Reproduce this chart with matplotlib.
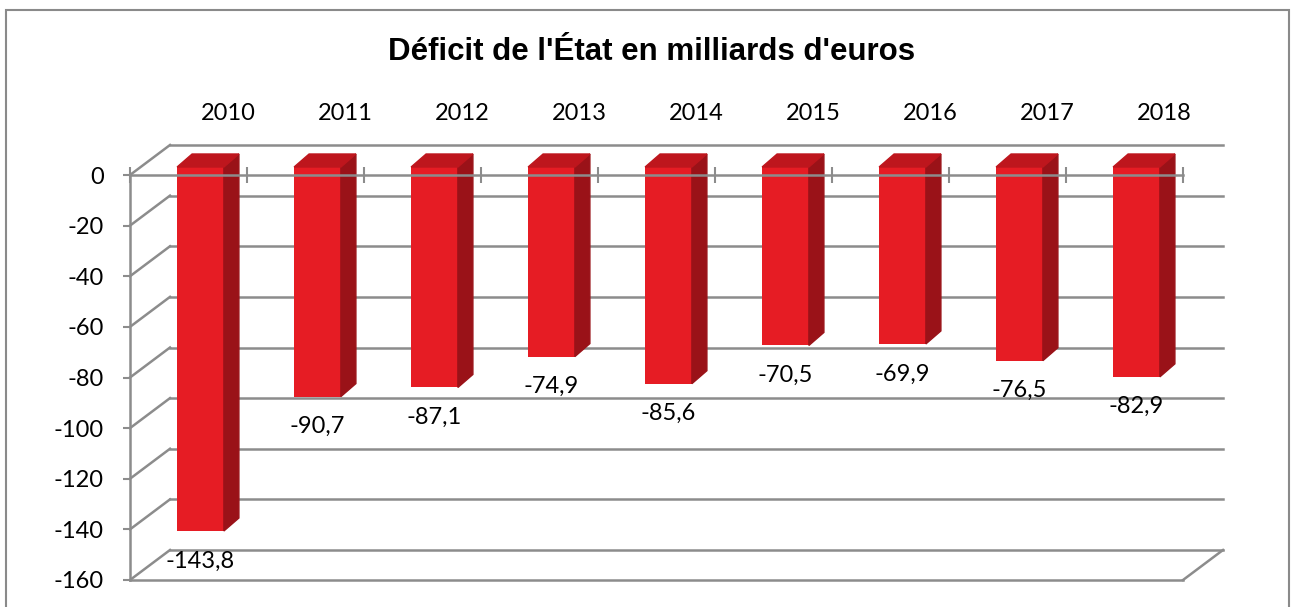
import numpy as np
import matplotlib.pyplot as plt
from matplotlib.patches import Polygon, Rectangle
from matplotlib.transforms import offset_copy

# donnees : deficit de l'Etat (milliards d'euros)
annees = ['2010', '2011', '2012', '2013', '2014', '2015', '2016', '2017', '2018']
deficit = [-143.8, -90.7, -87.1, -74.9, -85.6, -70.5, -69.9, -76.5, -82.9]
graduations = [0, -20, -40, -60, -80, -100, -120, -140, -160]

plt.rcParams['font.family'] = ['Lato', 'DejaVu Sans']

gris = '#8c8c8c'
rouge_face = '#e61c24'
rouge_cote = '#9a1218'
rouge_haut = '#be161d'

fig = plt.figure(figsize=(12.96, 6.07), dpi=100)
ax = fig.add_axes([130 / 1296, 27 / 607, 1053 / 1296, 405 / 607])
ax.set_xlim(0, len(annees))
ax.set_ylim(-160, 0)

# conversion pixels -> unites de donnees (pour l'effet 3D)
pos = ax.get_position()
px_x = len(annees) / (pos.width * fig.get_figwidth() * fig.dpi)
px_y = 160 / (pos.height * fig.get_figheight() * fig.dpi)

prof_x, prof_y = 40 * px_x, 30 * px_y      # profondeur du plan
off_x, off_y = 12 * px_x, 8 * px_y         # decalage de la face avant des barres
bar_dx, bar_dy = 15 * px_x, 13 * px_y      # epaisseur des barres
bw = 0.40

# mur du fond + paroi gauche
for g in graduations:
    ax.plot([prof_x, len(annees) + prof_x], [g + prof_y, g + prof_y],
            color=gris, lw=1.8, zorder=0.5, clip_on=False)
    ax.plot([0, prof_x], [g, g + prof_y], color=gris, lw=1.8, zorder=0.5, clip_on=False)
# sol, cote droit
ax.plot([len(annees), len(annees) + prof_x], [-160, -160 + prof_y],
        color=gris, lw=1.8, zorder=0.5, clip_on=False)

# barres
x = np.arange(len(annees)) + 0.5
ax.bar(x, deficit, width=bw, color=rouge_face, zorder=1, clip_on=False,
       transform=offset_copy(ax.transData, fig, x=12, y=8, units='dots'))
for xi, v in zip(x, deficit):
    xl = xi - bw / 2 + off_x
    xr = xi + bw / 2 + off_x
    cote = [(xr, off_y), (xr, v + off_y), (xr + bar_dx, v + off_y + bar_dy), (xr + bar_dx, off_y + bar_dy)]
    haut = [(xl, off_y), (xr, off_y), (xr + bar_dx, off_y + bar_dy), (xl + bar_dx, off_y + bar_dy)]
    ax.add_patch(Polygon(cote, closed=True, color=rouge_cote, zorder=1, clip_on=False))
    ax.add_patch(Polygon(haut, closed=True, color=rouge_haut, zorder=1, clip_on=False))

# etiquettes de valeurs
for xi, v in zip(x, deficit):
    ax.text(xi, v, f"{v:.1f}".replace('.', ','), ha='center', va='center', fontsize=17,
            transform=offset_copy(ax.transData, fig, x=12, y=-22, units='dots'), zorder=3)

# annees en haut
for xi, an in zip(x, annees):
    ax.text(xi, 0, an, ha='center', va='center', fontsize=17,
            transform=offset_copy(ax.transData, fig, x=40, y=62, units='dots'))

# axes
ax.spines['right'].set_visible(False)
for s in ['left', 'top', 'bottom']:
    ax.spines[s].set_color(gris)
    ax.spines[s].set_linewidth(1.8)
ax.set_yticks(graduations)
ax.set_yticklabels([str(g) for g in graduations], fontsize=17)
ax.tick_params(axis='y', direction='out', length=5, width=1.5, color=gris, pad=14)
ax.set_xticks(np.arange(len(annees) + 1))
ax.tick_params(axis='x', bottom=False, top=True, labelbottom=False, labeltop=False,
               direction='inout', length=11, width=1.5, color=gris)
ax.set_facecolor('none')

fig.text(0.503, 1 - 52 / 607, "Déficit de l'État en milliards d'euros", ha='center', va='center',
         fontsize=22.5, fontweight='bold', family=['Liberation Sans', 'DejaVu Sans'])

# cadre
fig.patches.append(Rectangle((6 / 1296, -0.02), 1283 / 1296, 1.02 - 10 / 607, transform=fig.transFigure,
                             fill=False, edgecolor='#8a8a8a', lw=1.5))

fig.savefig('out.png', dpi=100)
